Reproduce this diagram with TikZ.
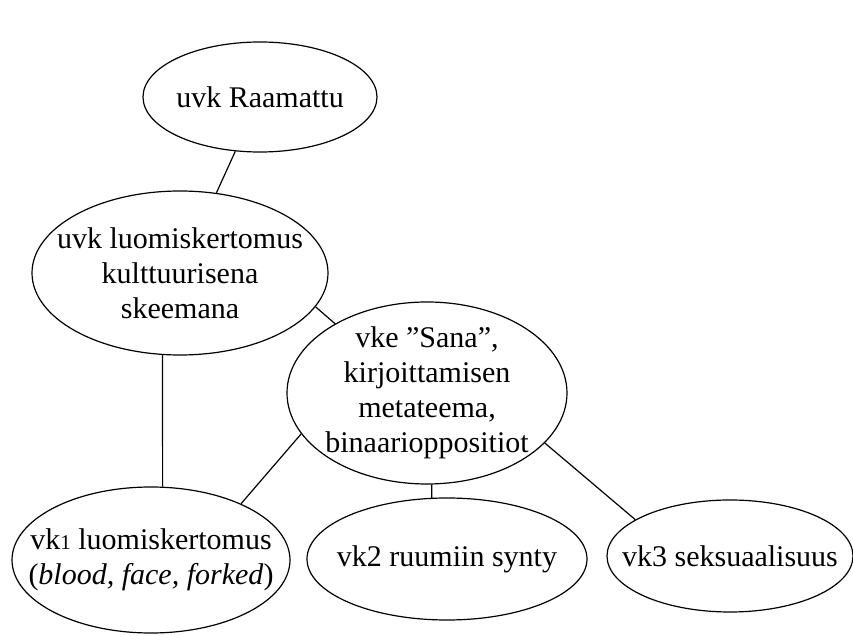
\documentclass[tikz,border=0pt]{standalone}
\usepackage{fontspec}
\setmainfont{Liberation Serif}
\usetikzlibrary{shapes.geometric}

\begin{document}
\begin{tikzpicture}[x=0.5pt,y=-0.5pt,
    teema/.style={ellipse,draw,line width=0.6pt,inner sep=-8cm,align=center,
      font=\fontsize{15}{17.5}\selectfont},
    yhteys/.style={line width=0.6pt}]
  \useasboundingbox (0,0) rectangle (853,636);
  % ylimmat kerrokset
  \node[teema,minimum width=117pt,minimum height=55pt] (raamattu) at (260,97) {uvk Raamattu};
  \node[teema,minimum width=148pt,minimum height=82pt] (luomis) at (180,273)
    {uvk luomiskertomus\\kulttuurisena\\skeemana};
  \node[teema,minimum width=140pt,minimum height=91pt] (sana) at (427,393)
    {vke ”Sana”,\\kirjoittamisen\\metateema,\\binaarioppositiot};
  % varsinaiset kerrokset
  \node[teema,minimum width=139pt,minimum height=73pt] (vk1) at (151,560)
    {vk{\fontsize{10.5}{12}\selectfont 1} luomiskertomus\\(\textit{blood, face, forked})};
  \node[teema,minimum width=140pt,minimum height=61pt] (vk2) at (447,559) {vk2 ruumiin synty};
  \node[teema,minimum width=123pt,minimum height=56pt] (vk3) at (730,556) {vk3 seksuaalisuus};

  \draw[yhteys] (raamattu) -- (luomis);
  \draw[yhteys] (luomis.-14) -- (sana.143);
  \draw[yhteys] (luomis.258) -- (vk1.81);
  \draw[yhteys] (sana.198) -- (vk1.32);
  \draw[yhteys] (sana.273) -- (vk2.104);
  \draw[yhteys] (sana.337) -- (vk3.159);
\end{tikzpicture}
\end{document}
